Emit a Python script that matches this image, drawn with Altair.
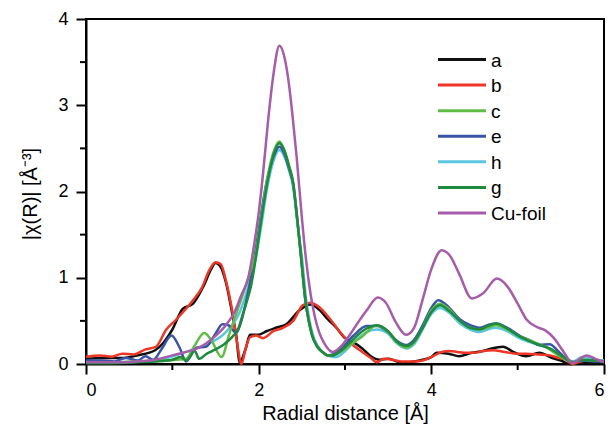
import altair as alt
import pandas as pd

names = ["a", "b", "c", "e", "h", "g", "Cu-foil"]
colors = ["#111111", "#ee3526", "#62bc48", "#3a55a6", "#5cc6e0", "#1d8a3e", "#a65ca9"]
draw_order = ["a", "b", "h", "e", "c", "g", "Cu-foil"]

x_major = [0, 2, 4, 6]
x_minor = [1, 3, 5]
y_major = [0, 1, 2, 3, 4]
y_minor = [0.5, 1.5, 2.5, 3.5]

r_a = [0, 0.2, 0.4, 0.6, 0.8, 0.9, 1.0, 1.12, 1.24, 1.36, 1.45, 1.5, 1.55, 1.62, 1.7, 1.74, 1.78, 1.85, 1.9, 2.0,
       2.09, 2.2, 2.32, 2.47, 2.6, 2.7, 2.8, 2.9, 3.0, 3.1, 3.2, 3.3, 3.4, 3.5, 3.6, 3.7, 3.8, 3.9, 4.0, 4.06,
       4.2, 4.32, 4.47, 4.6, 4.7, 4.83, 4.95, 5.1, 5.25, 5.4, 5.5, 5.6, 5.7, 5.8, 5.9, 6.0]
v_a = [0.06, 0.07, 0.07, 0.1, 0.16, 0.25, 0.4, 0.64, 0.7, 0.9, 1.1, 1.17, 1.14, 0.95, 0.55, 0.33, 0.02, 0.18, 0.34, 0.34,
       0.38, 0.42, 0.46, 0.62, 0.69, 0.63, 0.52, 0.42, 0.3, 0.25, 0.18, 0.09, 0.05, 0.06, 0.03, 0.02, 0.03, 0.05, 0.08, 0.13,
       0.12, 0.09, 0.13, 0.15, 0.18, 0.2, 0.14, 0.09, 0.13, 0.07, 0.04, 0.0, 0.01, 0.02, 0.01, 0.01]

r_b = [0, 0.16, 0.3, 0.42, 0.55, 0.69, 0.81, 0.93, 1.04, 1.14, 1.24, 1.34, 1.43, 1.5, 1.56, 1.62, 1.7, 1.75, 1.8, 1.85,
       1.9, 1.97, 2.05, 2.17, 2.28, 2.4, 2.51, 2.6, 2.7, 2.82, 2.95, 3.09, 3.2, 3.3, 3.37, 3.45, 3.55, 3.65, 3.8, 3.9,
       4.02, 4.12, 4.21, 4.3, 4.4, 4.5, 4.6, 4.71, 4.85, 4.98, 5.1, 5.25, 5.37, 5.48, 5.56, 5.63, 5.7, 5.8, 5.9, 6.0]
v_b = [0.085, 0.1, 0.085, 0.12, 0.11, 0.17, 0.2, 0.4, 0.51, 0.62, 0.74, 0.88, 1.09, 1.18, 1.16, 0.97, 0.58, 0.25, 0.0, 0.18,
       0.31, 0.33, 0.3, 0.38, 0.42, 0.5, 0.68, 0.71, 0.66, 0.53, 0.36, 0.22, 0.14, 0.07, 0.02, 0.06, 0.05, 0.03, 0.03, 0.04,
       0.09, 0.14, 0.15, 0.14, 0.13, 0.13, 0.15, 0.16, 0.14, 0.12, 0.12, 0.11, 0.1, 0.07, 0.05, 0.0, 0.02, 0.04, 0.04, 0.04]

r_c = [0, 0.3, 0.6, 0.9, 1.05, 1.16, 1.25, 1.37, 1.45, 1.57, 1.66, 1.78, 1.88, 1.97, 2.03, 2.1, 2.17, 2.24, 2.3, 2.35,
       2.4, 2.45, 2.49, 2.54, 2.58, 2.62, 2.68, 2.75, 2.8, 2.86, 2.95, 3.1, 3.2, 3.37, 3.5, 3.6, 3.71, 3.8, 3.9, 4.0,
       4.1, 4.2, 4.33, 4.45, 4.56, 4.65, 4.75, 4.88, 5.02, 5.15, 5.25, 5.37, 5.47, 5.56, 5.64, 5.75, 5.9, 6.0]
v_c = [0.02, 0.02, 0.03, 0.04, 0.05, 0.06, 0.2, 0.36, 0.28, 0.08, 0.35, 0.7, 1.0, 1.3, 1.7, 2.15, 2.45, 2.58, 2.47, 2.3,
       2.1, 1.65, 1.25, 0.75, 0.5, 0.33, 0.2, 0.13, 0.1, 0.1, 0.14, 0.25, 0.32, 0.45, 0.37, 0.25, 0.19, 0.25, 0.42, 0.62,
       0.7, 0.64, 0.5, 0.42, 0.4, 0.42, 0.45, 0.4, 0.32, 0.27, 0.23, 0.17, 0.1, 0.05, 0.02, 0.05, 0.04, 0.03]

r_e = [0, 0.2, 0.33, 0.46, 0.6, 0.69, 0.78, 0.88, 0.99, 1.08, 1.16, 1.28, 1.39, 1.5, 1.58, 1.65, 1.74, 1.8, 1.86, 1.92,
       1.97, 2.03, 2.1, 2.17, 2.24, 2.3, 2.35, 2.4, 2.45, 2.49, 2.54, 2.58, 2.62, 2.68, 2.75, 2.8, 2.86, 2.95, 3.1, 3.25,
       3.37, 3.5, 3.6, 3.71, 3.8, 3.9, 4.0, 4.08, 4.2, 4.33, 4.45, 4.56, 4.65, 4.75, 4.88, 5.02, 5.15, 5.25, 5.37, 5.47,
       5.56, 5.64, 5.75, 5.9, 6.0]
v_e = [0.04, 0.04, 0.03, 0.07, 0.04, 0.09, 0.05, 0.18, 0.33, 0.2, 0.03, 0.19, 0.2, 0.35, 0.46, 0.45, 0.36, 0.5, 0.75, 1.05,
       1.35, 1.75, 2.15, 2.4, 2.52, 2.43, 2.27, 2.08, 1.65, 1.25, 0.75, 0.5, 0.33, 0.2, 0.13, 0.1, 0.11, 0.17, 0.33, 0.44,
       0.44, 0.37, 0.27, 0.22, 0.28, 0.45, 0.65, 0.74, 0.66, 0.52, 0.45, 0.42, 0.45, 0.47, 0.42, 0.33, 0.27, 0.22, 0.23, 0.15,
       0.06, 0.02, 0.04, 0.03, 0.03]

r_h = [0, 0.4, 0.8, 1.04, 1.24, 1.43, 1.62, 1.78, 1.88, 1.97, 2.03, 2.1, 2.17, 2.24, 2.3, 2.35, 2.4, 2.45, 2.5, 2.55,
       2.59, 2.63, 2.69, 2.76, 2.83, 2.9, 2.98, 3.1, 3.25, 3.37, 3.5, 3.6, 3.71, 3.8, 3.9, 4.0, 4.1, 4.2, 4.33, 4.45,
       4.56, 4.65, 4.75, 4.88, 5.02, 5.15, 5.25, 5.37, 5.47, 5.56, 5.64, 5.75, 5.9, 6.0]
v_h = [0.02, 0.02, 0.04, 0.1, 0.17, 0.24, 0.37, 0.6, 0.9, 1.25, 1.6, 2.05, 2.35, 2.48, 2.4, 2.25, 2.05, 1.62, 1.25, 0.75,
       0.5, 0.33, 0.2, 0.12, 0.09, 0.08, 0.13, 0.25, 0.37, 0.4, 0.35, 0.24, 0.18, 0.23, 0.4, 0.58, 0.65, 0.6, 0.47, 0.4,
       0.37, 0.4, 0.42, 0.38, 0.3, 0.25, 0.22, 0.18, 0.12, 0.07, 0.03, 0.08, 0.05, 0.04]

r_g = [0, 0.3, 0.6, 0.8, 1.0, 1.1, 1.16, 1.26, 1.31, 1.4, 1.5, 1.6, 1.7, 1.76, 1.82, 1.87, 1.91, 1.97, 2.03, 2.1,
       2.17, 2.24, 2.3, 2.35, 2.4, 2.45, 2.49, 2.54, 2.58, 2.62, 2.68, 2.75, 2.8, 2.86, 2.95, 3.09, 3.2, 3.37, 3.5, 3.6,
       3.71, 3.8, 3.9, 4.0, 4.1, 4.2, 4.33, 4.45, 4.56, 4.65, 4.75, 4.88, 5.02, 5.15, 5.25, 5.37, 5.47, 5.56, 5.64, 5.75,
       5.9, 6.0]
v_g = [0.01, 0.01, 0.02, 0.03, 0.05, 0.08, 0.04, 0.15, 0.06, 0.12, 0.17, 0.23, 0.32, 0.4, 0.59, 0.75, 0.9, 1.25, 1.67, 2.1,
       2.42, 2.56, 2.47, 2.3, 2.1, 1.65, 1.25, 0.75, 0.5, 0.33, 0.2, 0.13, 0.1, 0.1, 0.15, 0.28, 0.38, 0.45, 0.38, 0.26,
       0.21, 0.26, 0.42, 0.6, 0.68, 0.62, 0.5, 0.42, 0.4, 0.44, 0.47, 0.41, 0.32, 0.26, 0.22, 0.18, 0.12, 0.06, 0.02, 0.05,
       0.04, 0.03]

r_cu = [0, 0.3, 0.6, 0.8, 1.0, 1.16, 1.31, 1.47, 1.62, 1.72, 1.8, 1.88, 1.95, 2.0, 2.05, 2.11, 2.17, 2.24, 2.3, 2.35,
        2.39, 2.44, 2.5, 2.55, 2.6, 2.65, 2.7, 2.76, 2.86, 2.95, 3.05, 3.15, 3.25, 3.38, 3.48, 3.58, 3.71, 3.8, 3.9, 4.0,
        4.12, 4.22, 4.32, 4.47, 4.6, 4.76, 4.88, 5.0, 5.1, 5.22, 5.32, 5.42, 5.52, 5.64, 5.72, 5.8, 5.9, 6.0]
v_cu = [0.02, 0.02, 0.03, 0.05, 0.1, 0.14, 0.19, 0.3, 0.45, 0.6, 0.8, 1.0, 1.4, 1.75, 2.2, 2.83, 3.35, 3.69, 3.55, 3.25,
        2.9, 2.4, 1.7, 1.2, 0.82, 0.55, 0.37, 0.24, 0.14, 0.2, 0.33, 0.48, 0.62, 0.77, 0.7, 0.5, 0.34, 0.42, 0.75, 1.1,
        1.32, 1.25, 1.05, 0.76, 0.82, 0.99, 0.9, 0.7, 0.52, 0.43, 0.39, 0.3, 0.16, 0.01, 0.06, 0.1, 0.06, 0.02]

series = {
    "a": (r_a, v_a), "b": (r_b, v_b), "c": (r_c, v_c), "e": (r_e, v_e),
    "h": (r_h, v_h), "g": (r_g, v_g), "Cu-foil": (r_cu, v_cu),
}

W, H = 518, 345
color_scale = alt.Scale(domain=names, range=colors)
x_scale = alt.Scale(domain=[0, 6], nice=False, zero=False)
y_scale = alt.Scale(domain=[0, 4], nice=False)

x_axis = alt.Axis(
    values=x_major, title="Radial distance [Å]", format="d",
    tickSize=10, labelPadding=7, titleX=W / 2, titleY=55, titleBaseline="alphabetic",
)
y_axis = alt.Axis(
    values=y_major, title="|χ(R)| [Å⁻³]", format="d",
    tickSize=10, labelPadding=8, titleX=-46, titleY=H / 2 + 2,
)

layers = []
for name in draw_order:
    r, v = series[name]
    df = pd.DataFrame({"R": r, "chi": v, "series": name})
    layers.append(alt.Chart(df).mark_line(strokeWidth=2.5, interpolate="monotone").encode(
        x=alt.X("R:Q", scale=x_scale, axis=x_axis),
        y=alt.Y("chi:Q", scale=y_scale, axis=y_axis),
        color=alt.Color("series:N", scale=color_scale, legend=None),
    ))

# minor ticks, placed through the axes' scales
xm = alt.Chart(pd.DataFrame({"R": x_minor})).mark_rule(color="black", strokeWidth=2).encode(
    x=alt.X("R:Q", scale=x_scale, axis=x_axis), y=alt.value(H), y2=alt.value(H + 6),
)
ym = alt.Chart(pd.DataFrame({"chi": y_minor})).mark_rule(color="black", strokeWidth=2).encode(
    y=alt.Y("chi:Q", scale=y_scale, axis=y_axis), x=alt.value(-6), x2=alt.value(0),
)
plot = alt.layer(*layers, xm, ym)

leg_df = pd.DataFrame({"series": names})
leg_y = alt.Y("series:N", scale=alt.Scale(type="point", domain=names, range=[40.5, 194], padding=0), axis=None)
leg_lines = alt.Chart(leg_df).mark_rule(strokeWidth=3).encode(
    x=alt.value(352), x2=alt.value(400), y=leg_y,
    color=alt.Color("series:N", scale=color_scale, legend=None),
)
leg_text = alt.Chart(leg_df).mark_text(align="left", baseline="alphabetic", dy=7, fontSize=19, color="black",
                                       font="Liberation Sans").encode(
    x=alt.value(405), y=leg_y, text="series:N",
)
legend = alt.layer(leg_lines, leg_text)

chart = alt.layer(plot, legend).resolve_scale(y="independent").properties(
    width=W, height=H,
    autosize=alt.AutoSizeParams(type="none"),
    padding={"left": 86, "top": 19, "right": 6, "bottom": 61},
).configure(font="Liberation Sans").configure_view(
    stroke="black", strokeWidth=2
).configure_axis(
    grid=False, domainColor="black", domainWidth=2, tickColor="black", tickWidth=2,
    labelFontSize=18, labelColor="black", titleFontSize=20, titleColor="black",
    titleFontWeight="normal", labelFont="Liberation Sans", titleFont="Liberation Sans",
)

chart.save("out.html", embed_options={"renderer": "svg", "actions": False})
